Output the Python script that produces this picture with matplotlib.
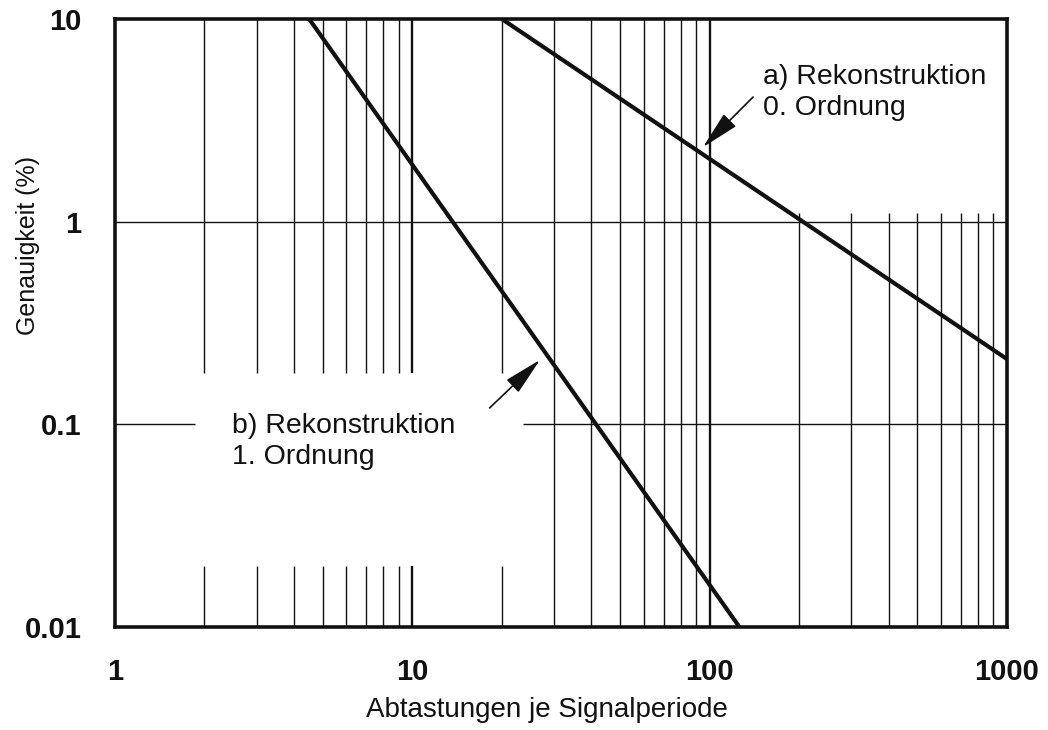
import matplotlib
matplotlib.use('Agg')
import matplotlib.pyplot as plt

plt.rcParams['font.family'] = ['Liberation Sans', 'DejaVu Sans']

# Kurven (Anfangs- und Endpunkt auf doppelt-logarithmischer Skala)
a_x = [20, 1000]
a_y = [10, 0.21]
b_x = [4.5, 126]
b_y = [10, 0.01]

x_ticks = [1, 10, 100, 1000]
x_labels = ['1', '10', '100', '1000']
y_ticks = [0.01, 0.1, 1, 10]
y_labels = ['0.01', '0.1', '1', '10']

# Gitterlinien (mit Lücken für die Beschriftung)
grid_left = [2, 3, 4, 5, 6, 7, 8, 9, 10, 20]        # unterbrochen bei b)
grid_mid = [30, 40, 50, 60, 70, 80, 90, 100]        # durchgehend
grid_right = [200, 300, 400, 500, 600, 700, 800, 900]  # erst ab y~1.1
gap_lo, gap_hi = 0.02, 0.18
right_top = 1.1
h_full = [1]
h01_segments = [(1, 1.86), (23.5, 1000)]

ink = '#111111'

fig = plt.figure(figsize=(10.48, 7.3), dpi=100)
ax = fig.add_axes([0.1097, 0.1411, 0.8511, 0.8329])
ax.set_xscale('log')
ax.set_yscale('log')
ax.set_xlim(1, 1000)
ax.set_ylim(0.01, 10)

lw_thin = 1.0
lw_dec = 1.7
for x in grid_left:
    lw = lw_dec if x == 10 else lw_thin
    ax.vlines(x, gap_hi, 10, color=ink, lw=lw, zorder=1)
    ax.vlines(x, 0.01, gap_lo, color=ink, lw=lw, zorder=1)
for x in grid_mid:
    lw = lw_dec if x == 100 else lw_thin
    ax.vlines(x, 0.01, 10, color=ink, lw=lw, zorder=1)
for x in grid_right:
    ax.vlines(x, 0.01, right_top, color=ink, lw=lw_thin, zorder=1)
for y in h_full:
    ax.hlines(y, 1, 1000, color=ink, lw=lw_thin, zorder=1)
for x0, x1 in h01_segments:
    ax.hlines(0.1, x0, x1, color=ink, lw=lw_thin, zorder=1)

ax.plot(a_x, a_y, color=ink, lw=3.0, solid_capstyle='butt', zorder=3)
ax.plot(b_x, b_y, color=ink, lw=3.0, solid_capstyle='butt', zorder=3)

for s in ax.spines.values():
    s.set_linewidth(2.6)
    s.set_color(ink)

ax.set_xticks(x_ticks)
ax.set_xticklabels(x_labels)
ax.set_yticks(y_ticks)
ax.set_yticklabels(y_labels)
ax.minorticks_off()
ax.tick_params(axis='both', length=0, labelsize=21, colors=ink)
ax.tick_params(axis='x', pad=22)
ax.tick_params(axis='y', pad=24)
for lab in ax.get_xticklabels() + ax.get_yticklabels():
    lab.set_fontweight('bold')

ax.set_xlabel('Abtastungen je Signalperiode', fontsize=20, color=ink)
ax.xaxis.label.set_va('center')
ax.xaxis.set_label_coords(0.484, -0.136)
ax.set_ylabel('Genauigkeit (%)', fontsize=18, color=ink)
ax.yaxis.label.set_va('center')
ax.yaxis.set_label_coords(-0.098, 0.628)

arrow = dict(arrowstyle='-|>,head_length=1.2,head_width=0.27', mutation_scale=20,
             color=ink, lw=1.2, shrinkA=0, shrinkB=0)
ax.annotate('', xy=(95, 2.33), xytext=(140, 4.12), arrowprops=arrow, zorder=4)
ax.annotate('', xy=(26.9, 0.208), xytext=(18.2, 0.1205), arrowprops=arrow, zorder=4)

ax.text(0.726, 0.926, 'a) Rekonstruktion\n0. Ordnung', transform=ax.transAxes,
        fontsize=20.5, ha='left', va='top', linespacing=1.25, color=ink)
ax.text(0.131, 0.352, 'b) Rekonstruktion\n1. Ordnung', transform=ax.transAxes,
        fontsize=20.5, ha='left', va='top', linespacing=1.25, color=ink)

fig.savefig('out.png', dpi=100)
